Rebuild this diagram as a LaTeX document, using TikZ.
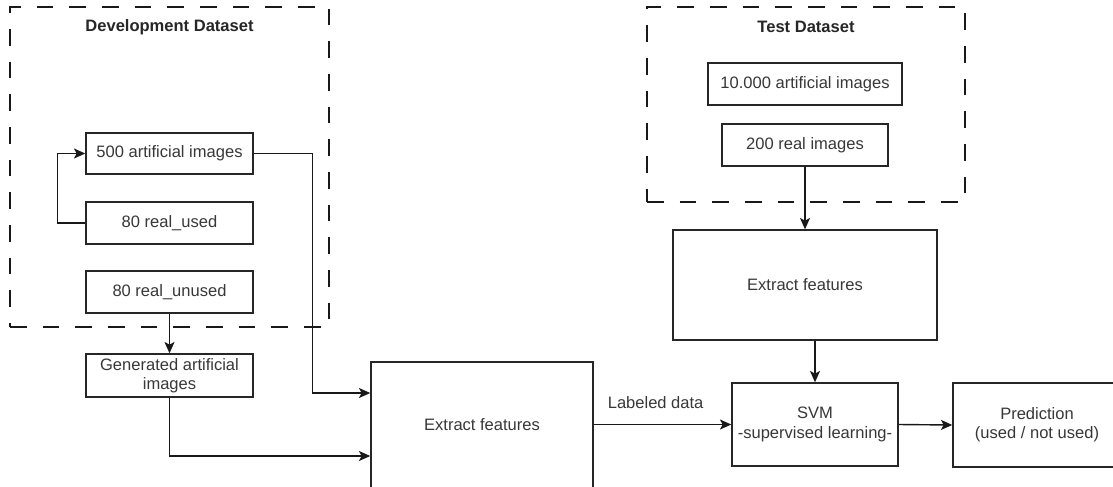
\documentclass[tikz,border=0pt]{standalone}
\usepackage{fontspec}
\setmainfont{Liberation Sans}
\usetikzlibrary{arrows.meta,calc}
\tikzset{
  px/.style={x=0.75pt,y=-0.75pt},
  box/.style={draw=black!85, line width=1.05pt, fill=white, inner sep=0pt,
    align=center, font=\fontsize{12.4}{14.5}\selectfont, text=black!78},
  group/.style={draw=black!90, line width=1.3pt, dash pattern=on 12.5pt off 12pt, inner sep=0pt},
  title/.style={font=\fontsize{12.4}{14.5}\selectfont\bfseries, text=black!85, inner sep=0pt},
  lbl/.style={font=\fontsize{12.4}{14.5}\selectfont, text=black!78, inner sep=0pt},
  arr/.style={draw=black!90, line width=1.05pt, -{Stealth[length=8.5pt,width=7.5pt,inset=2pt]}},
}
\begin{document}
\begin{tikzpicture}[px]
\useasboundingbox (0,0) rectangle (1113,486);
\clip (0,0) rectangle (1113,486);

% dataset groups
\node[group, minimum width=319*0.75pt, minimum height=320*0.75pt] (dev) at (169.5,167) {};
\node[title] (devt) at (169.5,27) {Development Dataset};
\node[group, minimum width=318*0.75pt, minimum height=195*0.75pt] (test) at (806,104.5) {};
\node[title] (testt) at (806,27) {Test Dataset};

% development data
\node[box, minimum width=167*0.75pt, minimum height=41*0.75pt] (a500) at (169.5,153.5) {500 artificial images};
\node[box, minimum width=167*0.75pt, minimum height=42*0.75pt] (used) at (169.5,223) {80 real\_used};
\node[box, minimum width=167*0.75pt, minimum height=42*0.75pt] (unused) at (169.5,292) {80 real\_unused};
\node[box, minimum width=167*0.75pt, minimum height=43*0.75pt] (gen) at (169.5,375.5) {Generated artificial\\images};

% test data
\node[box, minimum width=194*0.75pt, minimum height=42*0.75pt] (a10k) at (805,84) {10.000 artificial images};
\node[box, minimum width=166*0.75pt, minimum height=42*0.75pt] (r200) at (805,145) {200 real images};

% processing
\node[box, minimum width=222*0.75pt, minimum height=126*0.75pt] (exL) at (482,425) {Extract features};
\node[box, minimum width=264*0.75pt, minimum height=110*0.75pt] (exR) at (805,285) {Extract features};
\node[box, minimum width=166*0.75pt, minimum height=83*0.75pt] (svm) at (815,424.5) {SVM\\-supervised learning-};
\node[box, minimum width=168*0.75pt, minimum height=84*0.75pt] (pred) at (1037,425) {Prediction\\(used / not used)};

% connectors
\draw[arr] (used.west) -- ++(-28,0) |- (a500.west);
\draw[arr] (a500.east) -- ++(59,0) |- ($(exL.west)+(0,-32)$);
\draw[arr] (unused.south) -- (gen.north);
\draw[arr] (gen.south) |- ($(exL.west)+(0,31)$);
\draw[arr] (r200.south) -- (exR.north);
\draw[arr] (svm.north |- exR.south) -- (svm.north);
\draw[arr] (exL.east |- svm.west) -- node[lbl, pos=0.45, above=11pt] {Labeled data} (svm.west);
\draw[arr] (svm.east) -- (pred.west);
\end{tikzpicture}
\end{document}
